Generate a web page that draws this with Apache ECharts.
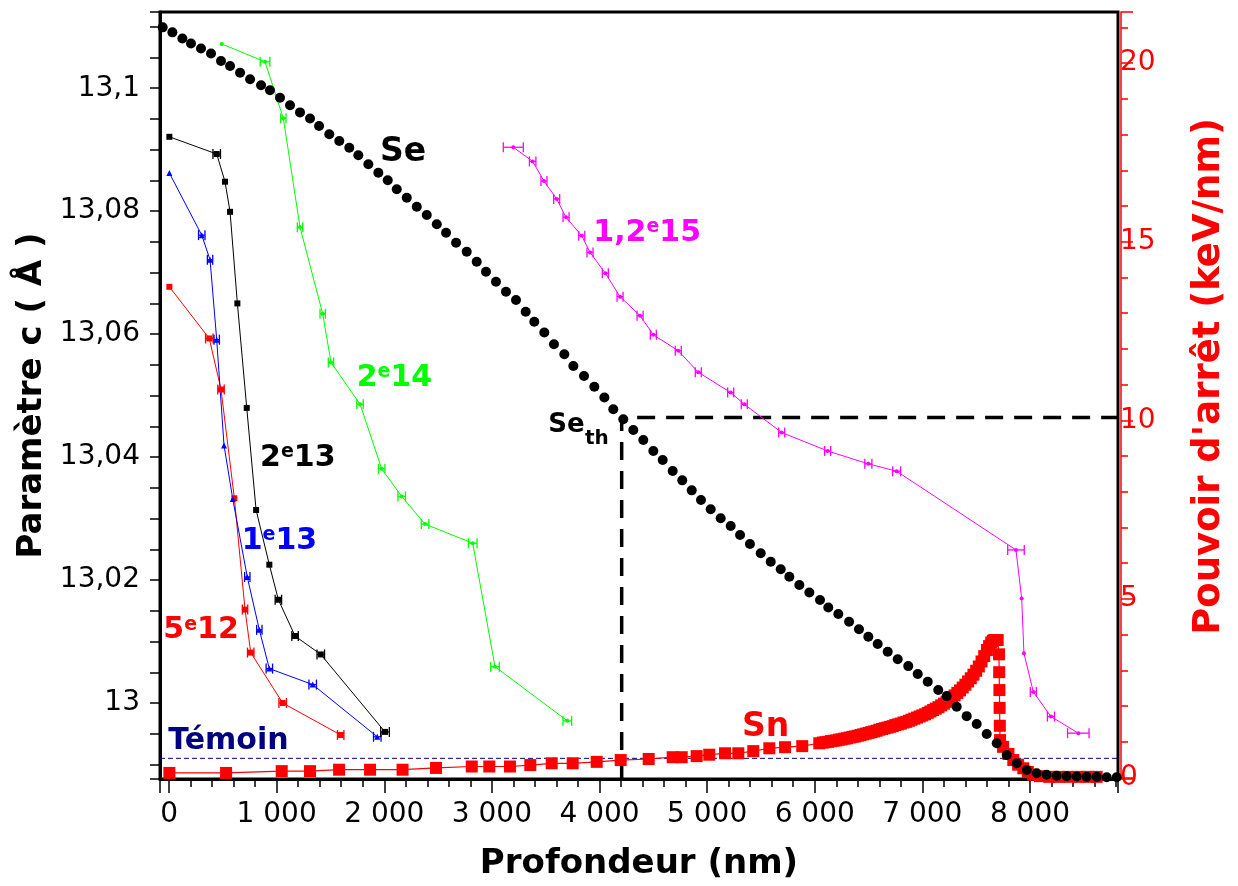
<!DOCTYPE html>
<html>
<head>
<meta charset="utf-8">
<script src="https://cdn.jsdelivr.net/npm/echarts@6/dist/echarts.min.js"></script>
<style>
html,body{margin:0;padding:0;background:#ffffff;}
#c{width:1238px;height:886px;}
</style>
</head>
<body>
<div id="c"></div>
<script>
// ---------- axis ranges ----------
const X_MIN = -84, X_MAX = 8818;
const C_MIN = 12.98764, C_MAX = 13.1124;
const S_MIN = -0.04, S_MAX = 21.43;

// ---------- Se (electronic stopping power, keV/nm) ----------
const seDepth = [-59,31,124,204,297,390,483,567,660,753,855,938,1031,1124,1217,1310,1394,1489,1582,1675,1759,1852,1945,2032,2116,2209,2302,2395,2488,2574,2667,2766,2859,2945,3038,3131,3224,3314,3394,3487,3577,3673,3757,3856,3952,4045,4128,4221,4314,4407,4500,4587,4680,4769,4857,4943,5033,5126,5219,5306,5398,5498,5591,5684,5764,5857,5950,6049,6126,6219,6319,6411,6498,6585,6678,6771,6869,6957,7050,7148,7226,7319,7412,7505,7598,7691,7784,7877,7970,8062,8155,8248,8341,8434,8527,8620,8713,8806];
const seValue = [21.00,20.86,20.69,20.55,20.41,20.27,20.06,19.92,19.73,19.55,19.38,19.24,19.03,18.82,18.62,18.45,18.24,18.01,17.82,17.63,17.42,17.17,16.93,16.72,16.47,16.23,15.98,15.75,15.49,15.25,14.97,14.72,14.44,14.16,13.88,13.60,13.37,13.04,12.76,12.46,12.13,11.85,11.52,11.24,10.94,10.64,10.31,10.03,9.73,9.45,9.14,8.89,8.58,8.32,8.04,7.77,7.51,7.26,7.04,6.79,6.54,6.28,6.04,5.83,5.62,5.39,5.18,4.97,4.76,4.58,4.36,4.15,3.94,3.74,3.52,3.31,3.12,2.90,2.68,2.45,2.28,1.98,1.72,1.50,1.22,0.96,0.63,0.40,0.21,0.12,0.08,0.05,0.04,0.03,0.02,0.02,0.01,0.01];

// ---------- Sn (nuclear stopping power, keV/nm) ----------
const snDepth = [3,530,1047,1310,1580,1868,2170,2481,2813,2976,3168,3357,3556,3751,3974,4197,4457,4680,4764,4903,5020,5166,5290,5429,5578,5724,5884,6042,
  6075,6100,6125,6150,6175,6200,6225,6250,6275,6300,6325,6350,6375,6400,6425,6450,6475,6500,6525,6550,6575,6600,6625,6650,6675,6700,6725,6750,6775,6800,6825,6850,6875,6900,6925,6950,6975,7000,7025,7050,7075,7100,7125,7150,7175,7200,7225,7250,7275,7300,7325,7350,7375,7400,7425,7450,7475,7500,7525,7550,7575,7600,7620,7640,7655,7670,7685,7700,
  7712,7714,7716,7718,7720,7722,7750,7800,7845,7890,7938,7980,8030,8093,8180,8270,8360,8450,8540,8620];
const snValue = [0.13,0.13,0.18,0.18,0.22,0.22,0.22,0.27,0.31,0.31,0.31,0.35,0.40,0.40,0.44,0.49,0.52,0.57,0.57,0.60,0.64,0.68,0.68,0.74,0.82,0.85,0.88,0.96,
  0.98,0.99,1.00,1.02,1.03,1.04,1.06,1.07,1.09,1.10,1.12,1.14,1.15,1.17,1.19,1.21,1.23,1.25,1.27,1.29,1.31,1.34,1.36,1.38,1.40,1.42,1.44,1.47,1.49,1.51,1.54,1.56,1.59,1.62,1.65,1.68,1.71,1.74,1.77,1.81,1.85,1.89,1.93,1.97,2.02,2.07,2.12,2.18,2.24,2.30,2.37,2.44,2.52,2.60,2.69,2.78,2.88,2.99,3.11,3.25,3.40,3.57,3.68,3.78,3.83,3.85,3.85,3.85,
  3.45,2.95,2.45,1.95,1.45,1.05,0.86,0.66,0.49,0.36,0.26,0.16,0.08,0.04,0.02,0.02,0.02,0.02,0.02,0.02];

// ---------- lattice parameter c (Å) vs depth, per fluence ----------
const depth5e12 = [3,374,483,607,706,759,1056,1595];
const c5e12     = [13.0677,13.0593,13.0510,13.0333,13.0152,13.0082,13.0000,12.9948];
const err5e12   = [0,35,30,0,25,30,35,30];

const depth1e13 = [3,304,381,443,511,592,727,839,932,1335,1935];
const c1e13     = [13.0862,13.0761,13.0721,13.0591,13.0419,13.0332,13.0205,13.0119,13.0056,13.0030,12.9945];
const err1e13   = [0,30,25,25,0,0,25,25,30,35,35];

const depth2e13 = [3,443,520,567,635,722,809,932,1016,1171,1410,2007];
const c2e13     = [13.0921,13.0893,13.0848,13.0799,13.0650,13.0480,13.0314,13.0225,13.0168,13.0109,13.0079,12.9953];
const err2e13   = [0,35,0,0,0,0,0,0,30,30,35,40];

const depth2e14 = [490,892,1062,1217,1428,1505,1775,1976,2162,2379,2822,3029,3701];
const c2e14     = [13.1072,13.1043,13.0951,13.0774,13.0633,13.0554,13.0486,13.0381,13.0336,13.0291,13.0260,13.0059,12.9971];
const err2e14   = [0,45,25,25,25,25,30,30,35,35,40,40,40];

const depth12e15 = [3199,3379,3484,3602,3689,3835,3912,4054,4191,4377,4500,4732,4918,5219,5345,5693,6120,6498,6761,7870,7923,7944,8031,8195,8449];
const c12e15     = [13.0904,13.0881,13.0849,13.0820,13.0790,13.0760,13.0733,13.0699,13.0661,13.0630,13.0599,13.0573,13.0538,13.0505,13.0486,13.0440,13.0410,13.0389,13.0377,13.0249,13.0170,13.0081,13.0018,12.9978,12.9951];
const err12e15   = [93,30,28,28,28,28,28,28,28,28,28,28,28,28,28,28,28,33,37,77,0,0,28,33,100];

// reference (unirradiated) value and threshold
const temoinC = 12.991;
const seThDepth = 4206;
const seThValue = 10.08;

// ---------- texts ----------
const xTitle = 'Profondeur (nm)';
const yLeftTitle = 'Paramètre c ( Å )';
const yRightTitle = "Pouvoir d'arrêt (keV/nm)";
const annKeys  = ['Se','12e15','2e14','2e13','1e13','5e12','Temoin','SeTh','th','Sn'];
const annDepth = [1961,3942,1744,846,675,-53,-7,3524,3865,5324];
const annC     = [13.0895,13.0765,13.0529,13.0399,13.0264,13.0118,12.9938,13.0451,13.0429,12.9961];

const FONT = "'DejaVu Sans', Verdana, sans-serif";
const chart = echarts.init(document.getElementById('c'));

function pairs(xs, ys){ return xs.map((x,i)=>[x, ys[i]]); }
function triples(xs, ys, es){ return xs.map((x,i)=>[x, ys[i], es[i]]).filter(d=>d[2]>0); }

function expLine(xs, ys, color, symbol, size){
  return {
    type:'line', xAxisIndex:0, yAxisIndex:0, data:pairs(xs,ys),
    symbol:symbol, symbolSize:size, showAllSymbol:true,
    lineStyle:{color:color, width:1}, itemStyle:{color:color, opacity:1},
    z:3, silent:true, animation:false
  };
}
function errBars(xs, ys, es, color){
  return {
    type:'custom', xAxisIndex:0, yAxisIndex:0, data:triples(xs,ys,es),
    z:3, silent:true, animation:false,
    renderItem:function(params, api){
      const x=api.value(0), y=api.value(1), e=api.value(2);
      const p1=api.coord([x-e,y]), p2=api.coord([x+e,y]);
      const h=5, st={stroke:color, lineWidth:1.3};
      return {type:'group', children:[
        {type:'line', shape:{x1:p1[0],y1:p1[1],x2:p2[0],y2:p2[1]}, style:st},
        {type:'line', shape:{x1:p1[0],y1:p1[1]-h,x2:p1[0],y2:p1[1]+h}, style:st},
        {type:'line', shape:{x1:p2[0],y1:p2[1]-h,x2:p2[0],y2:p2[1]+h}, style:st}
      ]};
    }
  };
}

const xFmt = v => (Math.abs(v % 1000) < 1e-6) ? (v === 0 ? '0' : (v/1000) + ' 000') : '';
const cFmt = v => { const r = Math.round(v/0.02); return Math.abs(v - r*0.02) > 1e-7 ? '' : String(+v.toFixed(2)).replace('.', ','); };
const sFmt = v => (Math.abs(v % 5) < 1e-6) ? String(Math.round(v)) : '';

const option = {
  animation:false,
  backgroundColor:'#ffffff',
  grid:{left:160, right:120, top:12, bottom:107, show:true, borderColor:'#000', borderWidth:3, containLabel:false},
  xAxis:[
    {type:'value', min:X_MIN, max:X_MAX, minInterval:1000, maxInterval:1000, position:'bottom',
     axisLine:{show:true, onZero:false, lineStyle:{color:'#000', width:3}},
     axisTick:{show:true, length:14, lineStyle:{color:'#000', width:1.5}},
     axisLabel:{formatter:xFmt, fontFamily:FONT, fontSize:28, color:'#000', margin:22},
     splitLine:{show:false},
     name:xTitle, nameLocation:'middle', nameGap:68,
     nameTextStyle:{fontFamily:FONT, fontSize:34, fontWeight:'bold', color:'#000'}},
    {type:'value', min:X_MIN, max:X_MAX, minInterval:200, maxInterval:200, position:'bottom',
     axisLine:{show:false, onZero:false}, axisTick:{show:true, length:8, lineStyle:{color:'#000', width:1.5}},
     axisLabel:{show:false}, splitLine:{show:false}}
  ],
  yAxis:[
    {type:'value', min:C_MIN, max:C_MAX, minInterval:0.02, maxInterval:0.02, position:'left',
     axisLine:{show:true, onZero:false, lineStyle:{color:'#000', width:3}},
     axisTick:{show:true, length:10, lineStyle:{color:'#000', width:1.5}},
     axisLabel:{formatter:cFmt, fontFamily:FONT, fontSize:28, color:'#000', margin:20},
     splitLine:{show:false},
     name:yLeftTitle, nameLocation:'middle', nameRotate:90, nameGap:97,
     nameTextStyle:{fontFamily:FONT, fontSize:34, fontWeight:'bold', color:'#000'}},
    {type:'value', min:C_MIN, max:C_MAX, minInterval:0.005, maxInterval:0.005, position:'left',
     axisLine:{show:false, onZero:false}, axisTick:{show:true, length:10, lineStyle:{color:'#000', width:1.5}},
     axisLabel:{show:false}, splitLine:{show:false}},
    {type:'value', min:S_MIN, max:S_MAX, minInterval:5, maxInterval:5, position:'right', offset:3,
     axisLine:{show:true, onZero:false, lineStyle:{color:'#ff0000', width:1.5}},
     axisTick:{show:true, length:12, lineStyle:{color:'#ff0000', width:1.5}},
     axisLabel:{formatter:sFmt, fontFamily:FONT, fontSize:28, color:'#ff0000', margin:-1},
     splitLine:{show:false},
     name:yRightTitle, nameLocation:'middle', nameRotate:90, nameGap:70,
     nameTextStyle:{fontFamily:FONT, fontSize:37, fontWeight:'bold', color:'#ff0000', padding:[0,0,0,38]}},
    {type:'value', min:S_MIN, max:S_MAX, minInterval:1, maxInterval:1, position:'right', offset:3,
     axisLine:{show:false, onZero:false}, axisTick:{show:true, length:7, lineStyle:{color:'#ff0000', width:1.5}},
     axisLabel:{show:false}, splitLine:{show:false}}
  ],
  series:[
    {type:'line', xAxisIndex:0, yAxisIndex:0, data:[[X_MIN,temoinC],[X_MAX,temoinC]], symbol:'none',
     lineStyle:{color:'#000080', width:1, type:[5,3]}, z:2, silent:true},
    {type:'line', xAxisIndex:0, yAxisIndex:2, data:[[seThDepth,S_MIN],[seThDepth,seThValue],[X_MAX,seThValue]], symbol:'none',
     lineStyle:{color:'#000', width:3.5, type:[18,11]}, z:2, silent:true},
    expLine(depth5e12, c5e12, '#ff0000', 'rect', 6),
    errBars(depth5e12, c5e12, err5e12, '#ff0000'),
    expLine(depth1e13, c1e13, '#0000ff', 'triangle', 6),
    errBars(depth1e13, c1e13, err1e13, '#0000ff'),
    expLine(depth2e13, c2e13, '#000000', 'rect', 6),
    errBars(depth2e13, c2e13, err2e13, '#000000'),
    expLine(depth2e14, c2e14, '#00ff00', 'circle', 4),
    errBars(depth2e14, c2e14, err2e14, '#00ff00'),
    expLine(depth12e15, c12e15, '#ff00ff', 'circle', 4),
    errBars(depth12e15, c12e15, err12e15, '#ff00ff'),
    {type:'line', xAxisIndex:0, yAxisIndex:2, data:pairs(snDepth, snValue), symbol:'rect', symbolSize:12, showAllSymbol:true,
     lineStyle:{color:'#ff0000', width:1.2}, itemStyle:{color:'#ff0000', opacity:1}, z:4, silent:true},
    {type:'scatter', xAxisIndex:0, yAxisIndex:2, data:pairs(seDepth, seValue), symbol:'circle', symbolSize:10,
     itemStyle:{color:'#000000', opacity:1}, z:5, silent:true}
  ]
};
chart.setOption(option);

// ---------- annotations anchored to data coordinates ----------
function big(color, size){ return {fontSize:size, fontWeight:'bold', fontFamily:FONT, fill:color}; }
function sup(color, size){ return {fontSize:size, fontWeight:'bold', fontFamily:FONT, fill:color, verticalAlign:'top'}; }
const annStyle = {
  'Se':    {text:'{b|Se}', rich:{b:big('#000',33)}},
  '12e15': {text:'{b|1,2}{s|e}{b|15}', rich:{b:big('#ff00ff',30), s:sup('#ff00ff',19)}},
  '2e14':  {text:'{b|2}{s|e}{b|14}', rich:{b:big('#00ff00',30), s:sup('#00ff00',19)}},
  '2e13':  {text:'{b|2}{s|e}{b|13}', rich:{b:big('#000000',30), s:sup('#000000',19)}},
  '1e13':  {text:'{b|1}{s|e}{b|13}', rich:{b:big('#0000ff',30), s:sup('#0000ff',19)}},
  '5e12':  {text:'{b|5}{s|e}{b|12}', rich:{b:big('#ff0000',30), s:sup('#ff0000',19)}},
  'Temoin':{text:'{b|Témoin}', rich:{b:big('#000080',30)}},
  'SeTh':  {text:'{b|Se}', rich:{b:big('#000',26)}},
  'th':    {text:'{b|th}', rich:{b:big('#000',20)}},
  'Sn':    {text:'{b|Sn}', rich:{b:big('#ff0000',33)}}
};
const graphics = annKeys.map((k,i)=>{
  const p = chart.convertToPixel({xAxisIndex:0, yAxisIndex:0}, [annDepth[i], annC[i]]);
  const s = annStyle[k];
  return {type:'text', x:p[0], y:p[1], z:100,
    style:{text:s.text, rich:s.rich, align:'left', verticalAlign:'middle'}};
});
chart.setOption({graphic:graphics});
</script>
</body>
</html>
